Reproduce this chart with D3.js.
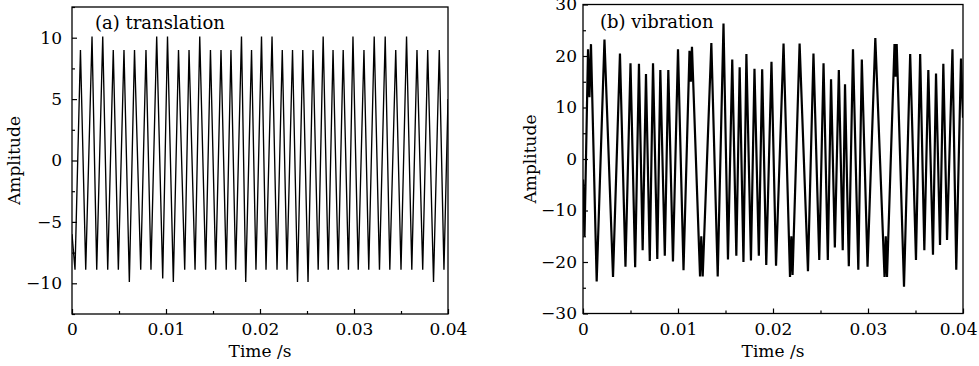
<!DOCTYPE html>
<html>
<head>
<meta charset="utf-8">
<script src="https://cdnjs.cloudflare.com/ajax/libs/d3/7.8.5/d3.min.js"></script>
<style>
body { margin: 0; background: #fff; }
text { font-family: "DejaVu Serif", serif; font-size: 17px; fill: #000; }
</style>
</head>
<body>
<svg id="chart" width="979" height="366"></svg>
<script>
// (a) translation: peaks / troughs
var transT = [0, 0.00032, 0.00090, 0.00146, 0.00213, 0.00263, 0.00327, 0.00380, 0.00439, 0.00493,
  0.00553, 0.00610, 0.00665, 0.00731, 0.00787, 0.00840, 0.00901, 0.00965, 0.01016, 0.01078,
  0.01133, 0.01199, 0.01245, 0.01309, 0.01359, 0.01422, 0.01473, 0.01529, 0.01585, 0.01641,
  0.01691, 0.01741, 0.01803, 0.01848, 0.01910, 0.01957, 0.02016, 0.02064, 0.02128, 0.02181,
  0.02237, 0.02287, 0.02346, 0.02399, 0.02455, 0.02511, 0.02564, 0.02619, 0.02672, 0.02726,
  0.02777, 0.02832, 0.02885, 0.02941, 0.02989, 0.03045, 0.03106, 0.03157, 0.03215, 0.03271,
  0.03332, 0.03381, 0.03444, 0.03500, 0.03559, 0.03615, 0.03670, 0.03731, 0.03784, 0.03846,
  0.03907, 0.03957, 0.04];
var transV = [-6, -8.9, 9.0, -8.9, 10.1, -8.9, 10.1, -8.9, 9.0, -8.9,
  9.0, -9.9, 9.0, -8.9, 9.0, -8.9, 10.1, -9.6, 10.1, -9.9,
  9.0, -8.9, 9.0, -8.9, 10.1, -8.9, 9.0, -8.9, 9.0, -8.9,
  9.0, -8.9, 10.1, -9.9, 9.0, -8.9, 10.1, -8.9, 10.1, -8.9,
  9.0, -8.9, 9.0, -9.9, 9.0, -9.9, 9.0, -8.9, 10.1, -8.9,
  9.0, -8.9, 9.0, -8.9, 10.1, -8.9, 9.0, -8.9, 10.1, -8.9,
  10.1, -8.9, 9.0, -8.9, 10.1, -8.9, 9.0, -8.9, 9.0, -9.9,
  9.0, -8.9, 5];

// (b) vibration
var vibT = [0, 0.00016, 0.00053, 0.00068, 0.00084, 0.00144, 0.00226, 0.00316, 0.00389, 0.00447,
  0.00500, 0.00549, 0.00589, 0.00628, 0.00663, 0.00703, 0.00737, 0.00782, 0.00814, 0.00861,
  0.00898, 0.00947, 0.01000, 0.01058, 0.01121, 0.01135, 0.01147, 0.01232, 0.01245, 0.01260,
  0.01351, 0.01418, 0.01479, 0.01526, 0.01571, 0.01614, 0.01649, 0.01689, 0.01720, 0.01768,
  0.01805, 0.01851, 0.01886, 0.01929, 0.01984, 0.02032, 0.02111, 0.02179, 0.02193, 0.02206,
  0.02280, 0.02368, 0.02426, 0.02487, 0.02532, 0.02577, 0.02611, 0.02651, 0.02693, 0.02734,
  0.02758, 0.02798, 0.02842, 0.02898, 0.02935, 0.02995, 0.03077, 0.03174, 0.03187, 0.03200,
  0.03279, 0.03291, 0.03302, 0.03379, 0.03444, 0.03505, 0.03549, 0.03593, 0.03635, 0.03684,
  0.03716, 0.03758, 0.03793, 0.03832, 0.03889, 0.03929, 0.03979, 0.04];
var vibV = [-4, -15, 21.3, 12, 22.3, -23.8, 23.2, -22.9, 20.5, -20.9,
  18.6, -21, 18.5, -17.7, 16.5, -19.8, 18.6, -19.4, 17.3, -18.8,
  17.3, -19.9, 21.3, -21.6, 21.0, 15, 21.8, -22.8, -15, -22.8,
  22.5, -22.8, 26.3, -19.5, 19.3, -18.8, 17.8, -20, 20.4, -19.7,
  17.5, -18.8, 17.4, -20.6, 18.9, -20.7, 22.4, -22.9, -15, -22.5,
  22.4, -21.8, 20.5, -19.6, 18.6, -19.6, 15.5, -17.2, 17.3, -17.7,
  14.5, -20.8, 21.3, -21.5, 19.3, -20.9, 23.5, -22.9, -15, -22.9,
  22.3, 16, 22.3, -24.8, 20.4, -19.6, 20.4, -17.7, 17.3, -18.6,
  16.6, -16.7, 18.5, -15.7, 21.3, -21.5, 19.5, 8];

var timeTicks = [0, 0.01, 0.02, 0.03, 0.04];
var transTicks = [-10, -5, 0, 5, 10];
var vibTicks = [-30, -20, -10, 0, 10, 20, 30];

var svg = d3.select("#chart");
var fmt = d3.format("");

function panel(o) {
  var x = d3.scaleLinear().domain([0, 0.04]).range([o.left, o.right]),
      y = d3.scaleLinear().domain(o.ydomain).range([o.bottom, o.top]);

  var g = svg.append("g");
  var clipId = "clip-" + o.id;
  g.append("clipPath").attr("id", clipId).append("rect")
    .attr("x", o.left).attr("y", o.top)
    .attr("width", o.right - o.left).attr("height", o.bottom - o.top);

  var data = o.t.map(function(t, i) { return [t, o.v[i]]; });
  g.append("path")
    .datum(data)
    .attr("clip-path", "url(#" + clipId + ")")
    .attr("fill", "none")
    .attr("stroke", "#000")
    .attr("stroke-width", o.sw)
    .attr("d", d3.line().x(function(d) { return x(d[0]); }).y(function(d) { return y(d[1]); }));

  // minor ticks
  g.append("g").attr("transform", "translate(0," + o.bottom + ")")
    .call(d3.axisBottom(x).tickValues(d3.range(0.005, 0.04, 0.01)).tickSize(-3).tickFormat(""))
    .call(function(a) { a.select(".domain").remove(); });
  g.append("g").attr("transform", "translate(" + o.left + ",0)")
    .call(d3.axisLeft(y).tickValues(o.yminor).tickSize(-3).tickFormat(""))
    .call(function(a) { a.select(".domain").remove(); });

  // major ticks
  var xa = g.append("g").attr("transform", "translate(0," + o.bottom + ")")
    .call(d3.axisBottom(x).tickValues(timeTicks).tickSize(-5).tickPadding(9).tickFormat(fmt));
  xa.select(".domain").remove();
  var ya = g.append("g").attr("transform", "translate(" + o.left + ",0)")
    .call(d3.axisLeft(y).tickValues(o.yticks).tickSize(-5).tickPadding(o.pad).tickFormat(fmt));
  ya.select(".domain").remove();
  g.selectAll(".tick line").attr("stroke", "#000").attr("stroke-width", 1.2);
  g.selectAll(".tick text").attr("font-family", null).attr("font-size", null);
  // last time label sits against the page edge
  xa.selectAll(".tick text").filter(function(d) { return d === 0.04; })
    .attr("text-anchor", o.lastAnchor).attr("dx", o.lastDx);

  g.append("rect")
    .attr("x", o.left).attr("y", o.top)
    .attr("width", o.right - o.left).attr("height", o.bottom - o.top)
    .attr("fill", "none").attr("stroke", "#000").attr("stroke-width", 1.3);

  g.append("text").attr("x", o.left + o.titleDx).attr("y", o.top + o.titleDy)
    .style("font-size", "18px").text(o.title);
  g.append("text").attr("x", (o.left + o.right) / 2).attr("y", 357)
    .attr("text-anchor", "middle").text("Time /s");
  g.append("text")
    .attr("transform", "translate(" + o.ylabX + "," + ((o.top + o.bottom) / 2) + ") rotate(-90)")
    .attr("text-anchor", "middle").attr("dy", "0.35em").text("Amplitude");
}

panel({id: "a", left: 72, right: 448, top: 7, bottom: 314, ydomain: [-12.5, 12.5],
  yticks: transTicks, yminor: [-12.5, -7.5, -2.5, 2.5, 7.5, 12.5], pad: 10,
  t: transT, v: transV, sw: 1.35, title: "(a) translation", titleDx: 23, titleDy: 22, ylabX: 14,
  lastAnchor: "middle", lastDx: 0});

panel({id: "b", left: 583, right: 963, top: 4.5, bottom: 313.5, ydomain: [-30, 30],
  yticks: vibTicks, yminor: [-25, -15, -5, 5, 15, 25], pad: 6,
  t: vibT, v: vibV, sw: 2.2, title: "(b) vibration", titleDx: 17, titleDy: 23, ylabX: 530,
  lastAnchor: "end", lastDx: 14});
</script>
</body>
</html>
